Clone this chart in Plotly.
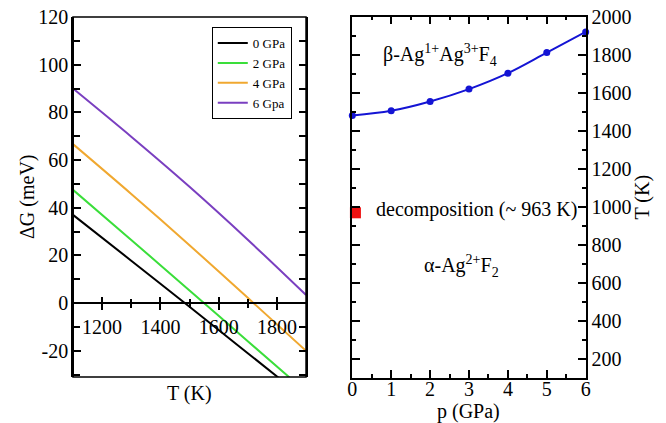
import plotly.graph_objects as go

# ---- data: left panel (ΔG vs T) ----
T_vals = [1100, 1300, 1500, 1700, 1900]
dG_0GPa = [37.0, 17.8, -1.5, -21.0, -40.5]
dG_2GPa = [47.5, 26.5, 5.3, -16.0, -37.2]
dG_4GPa = [66.7, 45.8, 24.3, 2.2, -20.0]
dG_6GPa = [90.0, 69.8, 48.8, 26.6, 3.4]
series_names = ["0 GPa", "2 GPa", "4 GPa", "6 Gpa"]
series_colors = ["#000000", "#3ade3a", "#f0a830", "#7a3fc0"]
dG_ticks = [-20, 0, 20, 40, 60, 80, 100, 120]
dG_ticktext = ["-20", "0", "20", "40", "60", "80", "100", "120"]
T_ticks = [1200, 1400, 1600, 1800]
T_minor = [1300, 1500, 1700]

# ---- data: right panel (phase boundary) ----
p_vals = [0, 1, 2, 3, 4, 5, 6]
T_boundary = [1480, 1505, 1554, 1619, 1703, 1811, 1920]
decomp_p = [0.08]
decomp_T = [968]

FONT = "Liberation Serif"

# geometry (paper fractions)
L_dom_x = [0.1096, 0.4595]
L_dom_y = [0.1087, 0.9598]
R_dom_x = [0.529, 0.8794]
R_dom_y = [0.107, 0.9605]
L_yrange = [-31, 120]
L_xrange = [1100, 1900]
R_xrange = [0, 6]
R_yrange = [100, 2000]

# position of the y=0 line in paper coords
zero_pos = L_dom_y[0] + (0 - L_yrange[0]) / (L_yrange[1] - L_yrange[0]) * (L_dom_y[1] - L_dom_y[0])

fig = go.Figure()
# split traces between the two zero-line axes so both axes get drawn
trace_axes = ["x", "x", "x3", "x3"]
for name, col, ys, xa in zip(series_names, series_colors,
                             [dG_0GPa, dG_2GPa, dG_4GPa, dG_6GPa], trace_axes):
    fig.add_trace(go.Scatter(x=T_vals, y=ys, mode="lines", name=name,
                             line=dict(color=col, width=2, shape="spline", smoothing=0.8),
                             xaxis=xa, yaxis="y"))

fig.add_trace(go.Scatter(x=p_vals, y=T_boundary, mode="lines+markers", showlegend=False,
                         line=dict(color="#1414d4", width=2, shape="spline"),
                         marker=dict(symbol="circle", size=7, color="#1414d4"),
                         xaxis="x2", yaxis="y2", cliponaxis=False))
fig.add_trace(go.Scatter(x=decomp_p, y=decomp_T, mode="markers", showlegend=False,
                         marker=dict(symbol="square", size=11, color="#ee1111"),
                         xaxis="x2", yaxis="y2", cliponaxis=False))

tickfont = dict(family=FONT, size=20, color="black")
titlefont = dict(family=FONT, size=20, color="black")
tk = dict(tickwidth=1.5, tickcolor="black")
mtk = dict(tickwidth=1.5, tickcolor="black")

fig.update_layout(
    width=666, height=423,
    margin=dict(l=0, r=0, t=0, b=0),
    paper_bgcolor="white", plot_bgcolor="white",
    font=dict(family=FONT, color="black"),
    showlegend=True,
    legend=dict(x=0.318, y=0.936, xanchor="left", yanchor="top",
                bgcolor="white", bordercolor="black", borderwidth=1,
                font=dict(family=FONT, size=13, color="black"),
                itemwidth=30, tracegroupgap=0),
    # zero-line axis with labels (ticks below)
    xaxis=dict(domain=L_dom_x, range=L_xrange, anchor="free", position=zero_pos,
               showline=True, linecolor="black", linewidth=1.5,
               tickvals=T_ticks, ticks="outside", ticklen=6, **tk,
               minor=dict(tickvals=T_minor, ticks="outside", ticklen=4, **mtk),
               tickfont=tickfont, showgrid=False, zeroline=False, automargin=False),
    # zero-line axis ticks above
    xaxis3=dict(overlaying="x", range=L_xrange, anchor="free", position=zero_pos,
                showline=False,
                tickvals=T_ticks, ticks="inside", ticklen=6, **tk,
                minor=dict(tickvals=T_minor, ticks="inside", ticklen=4, **mtk),
                showticklabels=False, showgrid=False, zeroline=False, automargin=False),
    yaxis=dict(domain=L_dom_y, range=L_yrange, anchor="free", position=L_dom_x[0],
               showline=True, mirror="allticks",
               linecolor="black", linewidth=1.5, tickvals=dG_ticks, ticktext=dG_ticktext,
               ticks="inside", ticklen=7, **tk,
               minor=dict(dtick=10, tick0=0, ticks="inside", ticklen=4, **mtk),
               tickfont=tickfont, showgrid=False, zeroline=False, automargin=False),
    xaxis2=dict(domain=R_dom_x, range=R_xrange, anchor="y2", showline=True, mirror="allticks",
                linecolor="black", linewidth=1.5, dtick=1, tick0=0,
                ticks="inside", ticklen=8, **tk,
                minor=dict(dtick=0.5, ticks="inside", ticklen=4, **mtk),
                tickfont=tickfont, showgrid=False, zeroline=False, automargin=False,
                ticklabelstandoff=-7),
    yaxis2=dict(domain=R_dom_y, range=R_yrange, anchor="x2", side="right", showline=True,
                mirror="allticks", linecolor="black", linewidth=1.5,
                tickvals=list(range(200, 2001, 200)),
                ticks="inside", ticklen=8, **tk,
                minor=dict(dtick=100, tick0=0, ticks="inside", ticklen=4, **mtk),
                tickfont=tickfont, showgrid=False, zeroline=False, automargin=False,
                title=dict(text="T (K)", font=titlefont, standoff=4)),
)

# left panel frame (top & bottom borders)
fig.add_shape(type="rect", xref="x domain", yref="y domain", x0=0, x1=1, y0=0, y1=1,
              line=dict(color="black", width=1.5), layer="above")
# axis titles as annotations
fig.add_annotation(xref="x domain", yref="y domain", x=0.5, y=0, yshift=-3,
                   xanchor="center", yanchor="top", showarrow=False,
                   text="T (K)", font=titlefont)
fig.add_annotation(xref="paper", yref="y domain", x=27 / 666, y=0.5,
                   xanchor="center", yanchor="middle", showarrow=False, textangle=-90,
                   text="ΔG (meV)", font=titlefont)
fig.add_annotation(xref="x2 domain", yref="paper", x=0.5, y=0, yshift=-2,
                   xanchor="center", yanchor="bottom", showarrow=False,
                   text="p (GPa)", font=titlefont)

ann_font = dict(family=FONT, size=20, color="black")
fig.add_annotation(x=2.25, y=1800, xref="x2", yref="y2", showarrow=False,
                   text="β-Ag<sup>1+</sup>Ag<sup>3+</sup>F<sub>4</sub>", font=ann_font)
fig.add_annotation(x=0.56, y=985, xref="x2", yref="y2", showarrow=False, xanchor="left",
                   text="decomposition (~ 963 K)", font=ann_font)
fig.add_annotation(x=2.8, y=690, xref="x2", yref="y2", showarrow=False,
                   text="α-Ag<sup>2+</sup>F<sub>2</sub>", font=ann_font)

fig.write_html("out.html")
